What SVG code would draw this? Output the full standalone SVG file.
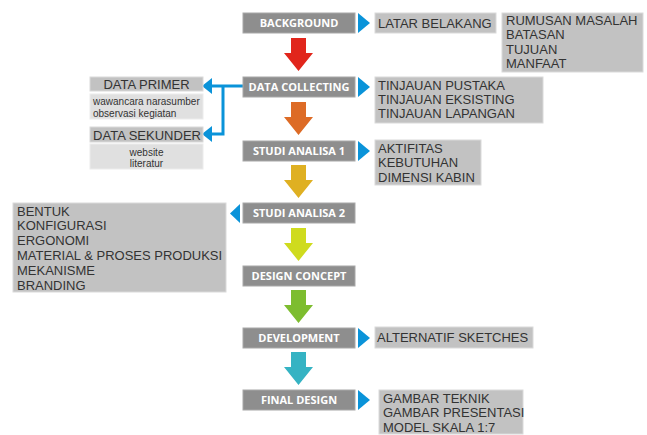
<svg xmlns="http://www.w3.org/2000/svg" xmlns:xlink="http://www.w3.org/1999/xlink" width="647" height="435" viewBox="0 0 647 435">
<style>
.step rect{fill:#8e8e8e;stroke:#a8a8a8;stroke-width:1}
.step text{font-family:"Open Sans","DejaVu Sans",sans-serif;font-weight:bold;font-size:11px;fill:#fff;text-anchor:middle}
.det rect{fill:#c2c2c2;stroke:#dadada;stroke-width:1}
.det text,.lbl text{font-family:"Liberation Sans",Arial,sans-serif;font-size:13px;fill:#333}
.sub rect{fill:#e0e0e0;stroke:#ececec;stroke-width:1}
.sub text{font-family:"Liberation Sans",Arial,sans-serif;font-size:10px;fill:#333}
.tri{fill:#0a93d9}
.conn{fill:none;stroke:#0a93d9;stroke-width:3}
</style>
<defs>
<path id="arr" d="M-7.5,0 H7.5 V15 H14.5 L0,33 L-14.5,15 H-7.5 Z"/>
</defs>
<rect width="647" height="435" fill="#fff"/>

<g id="flow-arrows">
<use xlink:href="#arr" x="298.5" y="38" fill="#e1261c"/>
<use xlink:href="#arr" x="298.5" y="102" fill="#dd6b26"/>
<use xlink:href="#arr" x="298.5" y="165" fill="#dfb022"/>
<use xlink:href="#arr" x="298.5" y="228" fill="#cfdb1e"/>
<use xlink:href="#arr" x="298.5" y="290" fill="#7dbd2f"/>
<use xlink:href="#arr" x="298.5" y="352" fill="#35b3c3"/>
</g>

<g id="connectors">
<path class="conn" d="M243,86 H210 M223,86 V134 H210"/>
<polygon class="tri" points="212,78 202,86 212,94"/>
<polygon class="tri" points="212,126 202,134 212,142"/>
<polygon class="tri" points="358,13 370,23 358,33"/>
<polygon class="tri" points="358,77 370,87 358,97"/>
<polygon class="tri" points="358,141 370,151 358,161"/>
<polygon class="tri" points="240,204 230,213.5 240,223"/>
<polygon class="tri" points="358,328 370,338 358,348"/>
<polygon class="tri" points="358,390 370,400 358,410"/>
</g>

<g id="background" class="step"><rect x="243" y="13" width="112" height="20"/><text x="299" y="27">BACKGROUND</text></g>
<g id="data-collecting" class="step"><rect x="243" y="77" width="112" height="20"/><text x="299" y="91">DATA COLLECTING</text></g>
<g id="studi-analisa-1" class="step"><rect x="243" y="141" width="112" height="20"/><text x="299" y="155">STUDI ANALISA 1</text></g>
<g id="studi-analisa-2" class="step"><rect x="243" y="203" width="112" height="20"/><text x="299" y="217">STUDI ANALISA 2</text></g>
<g id="design-concept" class="step"><rect x="243" y="266" width="112" height="20"/><text x="299" y="280">DESIGN CONCEPT</text></g>
<g id="development" class="step"><rect x="243" y="328" width="112" height="20"/><text x="299" y="342">DEVELOPMENT</text></g>
<g id="final-design" class="step"><rect x="243" y="390" width="112" height="20"/><text x="299" y="404">FINAL DESIGN</text></g>

<g id="latar-belakang" class="det"><rect x="375" y="13" width="121" height="20"/><text x="378" y="27.5">LATAR BELAKANG</text></g>
<g id="rumusan" class="det"><rect x="502" y="13" width="141" height="59"/>
<text x="506" y="25">RUMUSAN MASALAH</text><text x="506" y="39.3">BATASAN</text><text x="506" y="53.6">TUJUAN</text><text x="506" y="67.9">MANFAAT</text></g>
<g id="tinjauan" class="det"><rect x="375" y="77" width="168" height="46"/>
<text x="378" y="89.6">TINJAUAN PUSTAKA</text><text x="378" y="103.6">TINJAUAN EKSISTING</text><text x="378" y="117.6">TINJAUAN LAPANGAN</text></g>
<g id="aktifitas" class="det"><rect x="375" y="140" width="106" height="45"/>
<text x="378" y="152.5">AKTIFITAS</text><text x="378" y="167">KEBUTUHAN</text><text x="378" y="181.5">DIMENSI KABIN</text></g>
<g id="bentuk" class="det"><rect x="13" y="203" width="213" height="89"/>
<text x="17" y="215.5">BENTUK</text><text x="17" y="230.3">KONFIGURASI</text><text x="17" y="245.1">ERGONOMI</text><text x="17" y="259.9">MATERIAL &amp; PROSES PRODUKSI</text><text x="17" y="274.7">MEKANISME</text><text x="17" y="289.5">BRANDING</text></g>
<g id="alternatif" class="det"><rect x="375" y="327" width="158" height="21"/><text x="377" y="342">ALTERNATIF SKETCHES</text></g>
<g id="gambar" class="det"><rect x="379" y="390" width="144" height="44"/>
<text x="383" y="402.5">GAMBAR TEKNIK</text><text x="383" y="417">GAMBAR PRESENTASI</text><text x="383" y="431.5">MODEL SKALA 1:7</text></g>

<g id="data-primer" class="det"><rect x="90" y="77" width="113" height="14"/><text x="146.5" y="89" text-anchor="middle">DATA PRIMER</text></g>
<g id="data-primer-detail" class="sub"><rect x="90" y="94" width="113" height="25"/><text x="93" y="104.5">wawancara narasumber</text><text x="93" y="116.5">observasi kegiatan</text></g>
<g id="data-sekunder" class="det"><rect x="90" y="127" width="113" height="15"/><text x="147" y="139.5" text-anchor="middle">DATA SEKUNDER</text></g>
<g id="data-sekunder-detail" class="sub"><rect x="90" y="144" width="113" height="25"/><text x="146.5" y="155.5" text-anchor="middle">website</text><text x="146.5" y="166.5" text-anchor="middle">literatur</text></g>
</svg>
